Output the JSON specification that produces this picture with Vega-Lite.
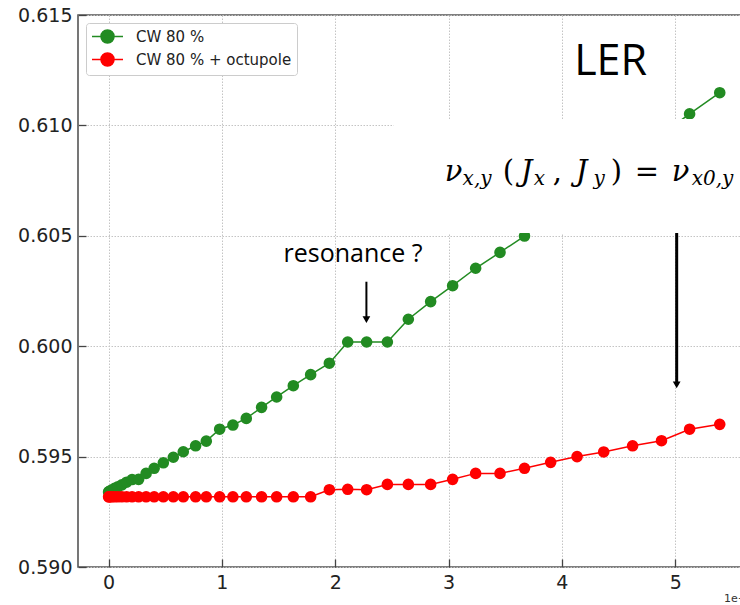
{
  "$schema": "https://vega.github.io/schema/vega-lite/v6.json",
  "autosize": "none",
  "padding": {"left": 78, "top": 15, "right": 0, "bottom": 38},
  "width": 672,
  "height": 552,
  "background": "white",
  "config": {
    "view": {"stroke": "#555555", "strokeWidth": 1.6},
    "font": "DejaVu Sans",
    "axis": {
      "domain": false,
      "grid": true,
      "gridColor": "#c4c4c4",
      "gridDash": [1.5, 1.5],
      "gridWidth": 1,
      "ticks": true,
      "tickColor": "#444444",
      "tickSize": -8,
      "tickWidth": 1.3,
      "tickOpacity": 1,
      "labelFont": "DejaVu Sans",
      "labelFontSize": 19,
      "labelColor": "#222222",
      "title": null
    }
  },
  "layer": [
    {
      "data": {"name": "tune", "values": [
        {"J": 0, "nu": 0.5934, "series": "CW 80 %"},
        {"J": 0.004, "nu": 0.5934, "series": "CW 80 %"},
        {"J": 0.013, "nu": 0.59344, "series": "CW 80 %"},
        {"J": 0.029, "nu": 0.59349, "series": "CW 80 %"},
        {"J": 0.053, "nu": 0.59356, "series": "CW 80 %"},
        {"J": 0.082, "nu": 0.59363, "series": "CW 80 %"},
        {"J": 0.117, "nu": 0.59372, "series": "CW 80 %"},
        {"J": 0.159, "nu": 0.59384, "series": "CW 80 %"},
        {"J": 0.207, "nu": 0.59396, "series": "CW 80 %"},
        {"J": 0.265, "nu": 0.59397, "series": "CW 80 %"},
        {"J": 0.331, "nu": 0.59424, "series": "CW 80 %"},
        {"J": 0.402, "nu": 0.59447, "series": "CW 80 %"},
        {"J": 0.483, "nu": 0.59472, "series": "CW 80 %"},
        {"J": 0.571, "nu": 0.59497, "series": "CW 80 %"},
        {"J": 0.659, "nu": 0.59522, "series": "CW 80 %"},
        {"J": 0.768, "nu": 0.59549, "series": "CW 80 %"},
        {"J": 0.862, "nu": 0.5957, "series": "CW 80 %"},
        {"J": 0.98, "nu": 0.59624, "series": "CW 80 %"},
        {"J": 1.097, "nu": 0.59643, "series": "CW 80 %"},
        {"J": 1.215, "nu": 0.59673, "series": "CW 80 %"},
        {"J": 1.35, "nu": 0.59723, "series": "CW 80 %"},
        {"J": 1.483, "nu": 0.5977, "series": "CW 80 %"},
        {"J": 1.63, "nu": 0.59821, "series": "CW 80 %"},
        {"J": 1.783, "nu": 0.59871, "series": "CW 80 %"},
        {"J": 1.948, "nu": 0.59923, "series": "CW 80 %"},
        {"J": 2.11, "nu": 0.60019, "series": "CW 80 %"},
        {"J": 2.277, "nu": 0.60019, "series": "CW 80 %"},
        {"J": 2.46, "nu": 0.60019, "series": "CW 80 %"},
        {"J": 2.645, "nu": 0.60122, "series": "CW 80 %"},
        {"J": 2.842, "nu": 0.60202, "series": "CW 80 %"},
        {"J": 3.036, "nu": 0.60274, "series": "CW 80 %"},
        {"J": 3.239, "nu": 0.60353, "series": "CW 80 %"},
        {"J": 3.454, "nu": 0.60425, "series": "CW 80 %"},
        {"J": 3.67, "nu": 0.60499, "series": "CW 80 %"},
        {"J": 3.901, "nu": 0.60585, "series": "CW 80 %"},
        {"J": 4.134, "nu": 0.60675, "series": "CW 80 %"},
        {"J": 4.369, "nu": 0.60765, "series": "CW 80 %"},
        {"J": 4.624, "nu": 0.60862, "series": "CW 80 %"},
        {"J": 4.879, "nu": 0.60958, "series": "CW 80 %"},
        {"J": 5.127, "nu": 0.61052, "series": "CW 80 %"},
        {"J": 5.393, "nu": 0.61148, "series": "CW 80 %"},
        {"J": 0, "nu": 0.59318, "series": "CW 80 % + octupole"},
        {"J": 0.004, "nu": 0.59318, "series": "CW 80 % + octupole"},
        {"J": 0.013, "nu": 0.59318, "series": "CW 80 % + octupole"},
        {"J": 0.029, "nu": 0.59318, "series": "CW 80 % + octupole"},
        {"J": 0.053, "nu": 0.59318, "series": "CW 80 % + octupole"},
        {"J": 0.082, "nu": 0.59318, "series": "CW 80 % + octupole"},
        {"J": 0.117, "nu": 0.59318, "series": "CW 80 % + octupole"},
        {"J": 0.159, "nu": 0.59318, "series": "CW 80 % + octupole"},
        {"J": 0.207, "nu": 0.59318, "series": "CW 80 % + octupole"},
        {"J": 0.265, "nu": 0.59318, "series": "CW 80 % + octupole"},
        {"J": 0.331, "nu": 0.59318, "series": "CW 80 % + octupole"},
        {"J": 0.402, "nu": 0.59318, "series": "CW 80 % + octupole"},
        {"J": 0.483, "nu": 0.59318, "series": "CW 80 % + octupole"},
        {"J": 0.571, "nu": 0.59318, "series": "CW 80 % + octupole"},
        {"J": 0.659, "nu": 0.59318, "series": "CW 80 % + octupole"},
        {"J": 0.768, "nu": 0.59318, "series": "CW 80 % + octupole"},
        {"J": 0.862, "nu": 0.59318, "series": "CW 80 % + octupole"},
        {"J": 0.98, "nu": 0.59318, "series": "CW 80 % + octupole"},
        {"J": 1.097, "nu": 0.59318, "series": "CW 80 % + octupole"},
        {"J": 1.215, "nu": 0.59318, "series": "CW 80 % + octupole"},
        {"J": 1.35, "nu": 0.59318, "series": "CW 80 % + octupole"},
        {"J": 1.483, "nu": 0.59318, "series": "CW 80 % + octupole"},
        {"J": 1.63, "nu": 0.59318, "series": "CW 80 % + octupole"},
        {"J": 1.783, "nu": 0.59318, "series": "CW 80 % + octupole"},
        {"J": 1.948, "nu": 0.5935, "series": "CW 80 % + octupole"},
        {"J": 2.11, "nu": 0.59352, "series": "CW 80 % + octupole"},
        {"J": 2.277, "nu": 0.5935, "series": "CW 80 % + octupole"},
        {"J": 2.46, "nu": 0.59374, "series": "CW 80 % + octupole"},
        {"J": 2.645, "nu": 0.59374, "series": "CW 80 % + octupole"},
        {"J": 2.842, "nu": 0.59374, "series": "CW 80 % + octupole"},
        {"J": 3.036, "nu": 0.59397, "series": "CW 80 % + octupole"},
        {"J": 3.239, "nu": 0.59424, "series": "CW 80 % + octupole"},
        {"J": 3.454, "nu": 0.59424, "series": "CW 80 % + octupole"},
        {"J": 3.67, "nu": 0.59447, "series": "CW 80 % + octupole"},
        {"J": 3.901, "nu": 0.59474, "series": "CW 80 % + octupole"},
        {"J": 4.134, "nu": 0.595, "series": "CW 80 % + octupole"},
        {"J": 4.369, "nu": 0.59521, "series": "CW 80 % + octupole"},
        {"J": 4.624, "nu": 0.59549, "series": "CW 80 % + octupole"},
        {"J": 4.879, "nu": 0.59572, "series": "CW 80 % + octupole"},
        {"J": 5.127, "nu": 0.59624, "series": "CW 80 % + octupole"},
        {"J": 5.393, "nu": 0.59646, "series": "CW 80 % + octupole"}
      ]},
      "encoding": {
        "x": {"field": "J", "type": "quantitative",
              "scale": {"domain": [-0.27, 5.66], "nice": false, "zero": false},
              "axis": {"values": [0, 1, 2, 3, 4, 5], "format": "d", "labelPadding": 14}},
        "y": {"field": "nu", "type": "quantitative",
              "scale": {"domain": [0.59, 0.615], "nice": false, "zero": false},
              "axis": {"values": [0.59, 0.595, 0.6, 0.605, 0.61, 0.615], "format": ".3f", "labelPadding": 14}},
        "color": {"field": "series", "type": "nominal",
                  "scale": {"domain": ["CW 80 %", "CW 80 % + octupole"], "range": ["#228b22", "#ff0000"]},
                  "legend": {
                    "title": null,
                    "orient": "none",
                    "legendX": 8,
                    "legendY": 8,
                    "fillColor": "white",
                    "strokeColor": "#cccccc",
                    "cornerRadius": 3,
                    "padding": 5,
                    "rowPadding": 2,
                    "symbolType": "M-2.07,0L2.07,0M-0.87,0A0.87,0.87,0,1,1,0.87,0A0.87,0.87,0,1,1,-0.87,0Z",
                    "symbolSize": 225,
                    "symbolStrokeWidth": 1.5,
                    "symbolOffset": 8,
                    "labelOffset": 20,
                    "labelFont": "DejaVu Sans",
                    "labelFontSize": 15,
                    "labelColor": "#222222",
                    "encode": {"symbols": {"update": {
                      "fill": {"scale": "color", "field": "value"},
                      "stroke": {"scale": "color", "field": "value"},
                      "opacity": {"value": 1}
                    }}}
                  }}
      },
      "layer": [
        {"mark": {"type": "line", "strokeWidth": 1.5}},
        {"mark": {"type": "point", "filled": true, "size": 135, "opacity": 1}}
      ]
    },
    {
      "data": {"values": [{"x": 2.275, "y1": 0.60292, "y2": 0.6012}]},
      "mark": {"type": "rule", "color": "black", "strokeWidth": 2},
      "encoding": {
        "x": {"field": "x", "type": "quantitative"},
        "y": {"field": "y1", "type": "quantitative"},
        "y2": {"field": "y2"}
      }
    },
    {
      "data": {"values": [{"x": 5.013, "y1": 0.607, "y2": 0.59825}]},
      "mark": {"type": "rule", "color": "black", "strokeWidth": 3},
      "encoding": {
        "x": {"field": "x", "type": "quantitative"},
        "y": {"field": "y1", "type": "quantitative"},
        "y2": {"field": "y2"}
      }
    },
    {
      "data": {"values": [{"x": 2.275, "y": 0.6012}, {"x": 5.013, "y": 0.59825}]},
      "mark": {"type": "point", "shape": "triangle-down", "filled": true, "color": "black", "size": 60, "opacity": 1},
      "encoding": {
        "x": {"field": "x", "type": "quantitative"},
        "y": {"field": "y", "type": "quantitative"}
      }
    },
    {
      "data": {"values": [{"x1": 2.515, "x2": 5.66, "y1": 0.60513, "y2": 0.61029}]},
      "mark": {"type": "rect", "color": "white", "opacity": 1},
      "encoding": {
        "x": {"field": "x1", "type": "quantitative"},
        "x2": {"field": "x2"},
        "y": {"field": "y1", "type": "quantitative"},
        "y2": {"field": "y2"}
      }
    },
    {
      "data": {"values": [{"x": 4.43, "y": 0.61228, "t": "LER"}]},
      "mark": {"type": "text", "font": "Open Sans", "fontSize": 43, "color": "black", "align": "center", "baseline": "alphabetic"},
      "encoding": {
        "x": {"field": "x", "type": "quantitative"},
        "y": {"field": "y", "type": "quantitative"},
        "text": {"field": "t"}
      }
    },
    {
      "data": {"values": [{"x": 2.157, "y": 0.60383, "t": "resonance ?"}]},
      "mark": {"type": "text", "font": "Open Sans", "fontSize": 25, "color": "black", "align": "center", "baseline": "alphabetic"},
      "encoding": {
        "x": {"field": "x", "type": "quantitative"},
        "y": {"field": "y", "type": "quantitative"},
        "text": {"field": "t"}
      }
    },
    {
      "data": {"values": [
        {"x": 2.966, "y": 0.60748, "t": "ν"},
        {"x": 3.636, "y": 0.60748, "t": "J"},
        {"x": 4.122, "y": 0.60748, "t": "J"},
        {"x": 4.969, "y": 0.60748, "t": "ν"}
      ]},
      "mark": {"type": "text", "font": "DejaVu Serif", "fontStyle": "italic", "fontSize": 29, "color": "black", "align": "left", "baseline": "alphabetic"},
      "encoding": {
        "x": {"field": "x", "type": "quantitative"},
        "y": {"field": "y", "type": "quantitative"},
        "text": {"field": "t"}
      }
    },
    {
      "data": {"values": [
        {"x": 3.478, "y": 0.60748, "t": "("},
        {"x": 3.919, "y": 0.60748, "t": ","},
        {"x": 4.431, "y": 0.60748, "t": ")"},
        {"x": 4.643, "y": 0.60748, "t": "="}
      ]},
      "mark": {"type": "text", "font": "DejaVu Serif", "fontSize": 29, "color": "black", "align": "left", "baseline": "alphabetic"},
      "encoding": {
        "x": {"field": "x", "type": "quantitative"},
        "y": {"field": "y", "type": "quantitative"},
        "text": {"field": "t"}
      }
    },
    {
      "data": {"values": [
        {"x": 3.124, "y": 0.6073, "t": "x,y"},
        {"x": 3.751, "y": 0.6073, "t": "x"},
        {"x": 4.28, "y": 0.6073, "t": "y"},
        {"x": 5.146, "y": 0.6073, "t": "x0,y"}
      ]},
      "mark": {"type": "text", "font": "DejaVu Serif", "fontStyle": "italic", "fontSize": 20, "color": "black", "align": "left", "baseline": "alphabetic"},
      "encoding": {
        "x": {"field": "x", "type": "quantitative"},
        "y": {"field": "y", "type": "quantitative"},
        "text": {"field": "t"}
      }
    },
    {
      "data": {"values": [{"x": 5.431, "y": 0.58843, "t": "1e−6"}]},
      "mark": {"type": "text", "font": "DejaVu Sans", "fontSize": 11, "color": "#333333", "align": "left", "baseline": "alphabetic"},
      "encoding": {
        "x": {"field": "x", "type": "quantitative"},
        "y": {"field": "y", "type": "quantitative"},
        "text": {"field": "t"}
      }
    }
  ]
}
